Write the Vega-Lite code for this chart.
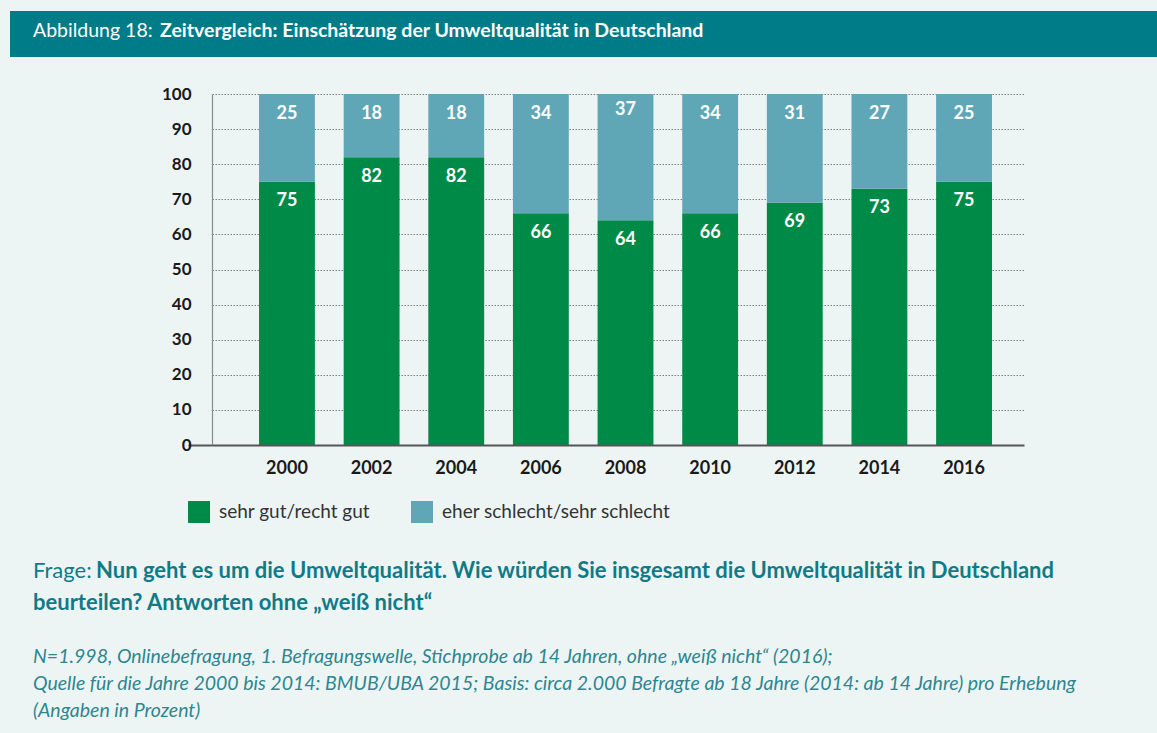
{
  "$schema": "https://vega.github.io/schema/vega-lite/v6.json",
  "background": "#edf5f4",
  "padding": {"left": 10, "top": 11, "right": 0, "bottom": 12},
  "config": {"view": {"stroke": null}, "font": "Lato"},
  "spacing": 28,
  "resolve": {"legend": {"color": "independent"}},
  "vconcat": [
    {
      "title": {"text": "Abbildung 18:", "orient": "top", "anchor": "start", "frame": "group", "offset": -45, "dx": 23, "baseline": "alphabetic", "font": "Lato", "fontSize": 19.5, "fontWeight": "normal", "color": "#ffffff"},
      "vconcat": [
        {
          "title": {"text": "Zeitvergleich: Einschätzung der Umweltqualität in Deutschland", "orient": "top", "anchor": "start", "frame": "group", "offset": -45, "dx": 150, "baseline": "alphabetic", "font": "Lato", "fontSize": 19.5, "fontWeight": "bold", "color": "#ffffff"},
          "width": 1147,
          "height": 46,
          "data": {"values": []},
          "mark": "rect",
          "view": {"fill": "#007b88", "stroke": null}
        }
      ]
    },
    {
      "spacing": 0,
      "resolve": {"legend": {"color": "independent"}},
      "hconcat": [
        {
          "width": 132,
          "height": 10,
          "data": {"values": []},
          "mark": "rect"
        },
        {
          "width": 812,
          "height": 351,
          "data": {
            "values": [
              {"year": "2000", "cat": "sehr gut/recht gut", "v": 75},
              {"year": "2000", "cat": "eher schlecht/sehr schlecht", "v": 25},
              {"year": "2002", "cat": "sehr gut/recht gut", "v": 82},
              {"year": "2002", "cat": "eher schlecht/sehr schlecht", "v": 18},
              {"year": "2004", "cat": "sehr gut/recht gut", "v": 82},
              {"year": "2004", "cat": "eher schlecht/sehr schlecht", "v": 18},
              {"year": "2006", "cat": "sehr gut/recht gut", "v": 66},
              {"year": "2006", "cat": "eher schlecht/sehr schlecht", "v": 34},
              {"year": "2008", "cat": "sehr gut/recht gut", "v": 64},
              {"year": "2008", "cat": "eher schlecht/sehr schlecht", "v": 37},
              {"year": "2010", "cat": "sehr gut/recht gut", "v": 66},
              {"year": "2010", "cat": "eher schlecht/sehr schlecht", "v": 34},
              {"year": "2012", "cat": "sehr gut/recht gut", "v": 69},
              {"year": "2012", "cat": "eher schlecht/sehr schlecht", "v": 31},
              {"year": "2014", "cat": "sehr gut/recht gut", "v": 73},
              {"year": "2014", "cat": "eher schlecht/sehr schlecht", "v": 27},
              {"year": "2016", "cat": "sehr gut/recht gut", "v": 75},
              {"year": "2016", "cat": "eher schlecht/sehr schlecht", "v": 25}
            ]
          },
          "transform": [
            {"stack": "v", "groupby": ["year"], "sort": [{"field": "cat", "order": "descending"}], "as": ["v0", "v1"]}
          ],
          "encoding": {
            "x": {
              "field": "year", "type": "ordinal",
              "scale": {"paddingInner": 0.34, "paddingOuter": 0.467, "align": 0.595},
              "axis": {"title": null, "labelAngle": 0, "ticks": false, "domain": true, "domainColor": "#555555", "domainWidth": 2, "labelPadding": 14, "labelFont": "Lato", "labelFontSize": 18, "labelFontWeight": "bold", "labelColor": "#1a1a1a", "zindex": 1}
            },
            "y": {
              "field": "v1", "type": "quantitative",
              "scale": {"domain": [0, 100], "nice": false},
              "axis": {
                "title": null,
                "values": [0, 10, 20, 30, 40, 50, 60, 70, 80, 90, 100],
                "tickCount": 20,
                "labelOverlap": false,
                "grid": true, "gridColor": "#7f7f7f", "gridDash": [1.5, 1.5], "gridWidth": 1,
                "domain": true, "domainColor": "#8a8a8a", "domainWidth": 1.2,
                "ticks": true, "tickSize": 69, "tickDash": [24, 100], "tickColor": "#555555", "tickWidth": 2,
                "tickOpacity": {"condition": {"test": "datum.value === 0", "value": 1}, "value": 0},
                "labelPadding": -48,
                "labelFont": "Lato", "labelFontSize": 17, "labelFontWeight": "bold", "labelColor": "#1a1a1a"
              }
            }
          },
          "layer": [
            {
              "mark": {"type": "bar", "clip": true},
              "encoding": {
                "y2": {"field": "v0"},
                "color": {
                  "field": "cat", "type": "nominal",
                  "scale": {"domain": ["sehr gut/recht gut", "eher schlecht/sehr schlecht"], "range": ["#008a48", "#5fa7b7"]},
                  "legend": {
                    "orient": "none", "legendX": -33, "legendY": 398, "direction": "horizontal", "title": null,
                    "symbolType": "square", "symbolSize": 484, "symbolStrokeWidth": 0, "symbolOpacity": 1,
                    "labelFont": "Lato", "labelFontSize": 19, "labelColor": "#333333", "labelOffset": 9, "labelLimit": 400,
                    "columnPadding": 40, "padding": 9
                  }
                }
              }
            },
            {
              "mark": {"type": "text", "dy": 19.5, "baseline": "middle", "color": "#ffffff", "font": "Lato", "fontWeight": "bold", "fontSize": 18},
              "encoding": {
                "text": {"field": "v", "type": "quantitative"}
              }
            }
          ]
        }
      ]
    },
    {
      "title": {
        "text": "beurteilen? Antworten ohne „weiß nicht“",
        "subtitle": ["N=1.998, Onlinebefragung, 1. Befragungswelle, Stichprobe ab 14 Jahren, ohne „weiß nicht“ (2016);", "Quelle für die Jahre 2000 bis 2014: BMUB/UBA 2015; Basis: circa 2.000 Befragte ab 18 Jahre (2014: ab 14 Jahre) pro Erhebung", "(Angaben in Prozent)"],
        "orient": "bottom", "anchor": "start", "frame": "group", "dx": 23, "offset": 9, "baseline": "alphabetic",
        "font": "Lato", "fontSize": 22, "fontWeight": "bold", "color": "#117a87",
        "subtitleFont": "Lato", "subtitleFontSize": 19.5, "subtitleFontStyle": "italic", "subtitleColor": "#2f8590", "subtitleLineHeight": 27, "subtitlePadding": 31
      },
      "vconcat": [
        {
          "title": {"text": "Frage:", "orient": "top", "anchor": "start", "frame": "group", "dx": 23, "offset": -40, "baseline": "alphabetic", "font": "Lato", "fontSize": 22, "fontWeight": "normal", "color": "#117a87"},
          "vconcat": [
            {
              "title": {"text": "Nun geht es um die Umweltqualität. Wie würden Sie insgesamt die Umweltqualität in Deutschland", "orient": "top", "anchor": "start", "frame": "group", "dx": 86, "offset": 0, "baseline": "alphabetic", "font": "Lato", "fontSize": 22, "fontWeight": "bold", "color": "#117a87"},
              "width": 1147,
              "height": 1,
              "data": {"values": []},
              "mark": "rect"
            }
          ]
        }
      ]
    }
  ]
}
